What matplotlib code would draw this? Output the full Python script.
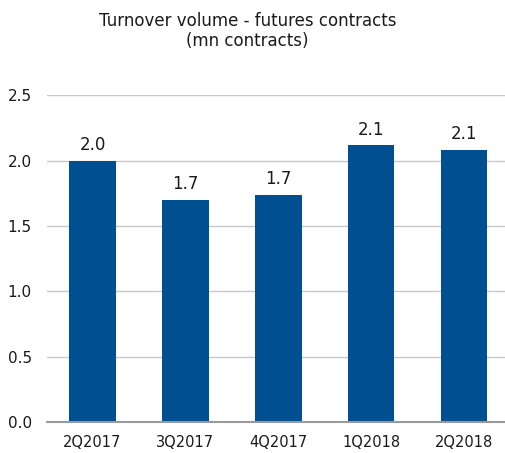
import matplotlib.pyplot as plt
import numpy as np

# data
quarters = ['2Q2017', '3Q2017', '4Q2017', '1Q2018', '2Q2018']
volumes = [2.00, 1.70, 1.74, 2.115, 2.077]
bar_labels = ['2.0', '1.7', '1.7', '2.1', '2.1']
y_ticks = [0.0, 0.5, 1.0, 1.5, 2.0, 2.5]

plt.rcParams['font.family'] = 'DejaVu Sans'

fig = plt.figure(figsize=(5.05, 4.53), dpi=100)
ax = fig.add_axes([0.093, 0.0684, 0.907, 0.7216])

x = np.arange(len(quarters))
bars = ax.bar(x, volumes, width=0.5, color='#004F91', zorder=3)

for rect, lab in zip(bars, bar_labels):
    ax.annotate(lab, (rect.get_x() + rect.get_width() / 2, rect.get_height()),
                xytext=(0, 5), textcoords='offset points',
                ha='center', va='bottom', fontsize=12, color='#1a1a1a')

ax.set_xlim(-0.49, 4.44)
ax.set_ylim(0, 2.5)
ax.set_yticks(y_ticks)
ax.set_yticklabels([f'{v:.1f}' for v in y_ticks])
ax.set_xticks(x)
ax.set_xticklabels(quarters)
ax.tick_params(axis='both', length=0, colors='#1a1a1a')
ax.tick_params(axis='y', pad=11, labelsize=11)
ax.tick_params(axis='x', pad=9, labelsize=10.5)

ax.grid(axis='y', color='#C8C8C8', linewidth=1, zorder=0)
for s in ['top', 'right', 'left']:
    ax.spines[s].set_visible(False)
ax.spines['bottom'].set_color('#9A9A9A')
ax.spines['bottom'].set_linewidth(1.5)
ax.spines['bottom'].set_zorder(4)

fig.text(0.49, 0.932, 'Turnover volume - futures contracts\n(mn contracts)',
         ha='center', va='center', fontsize=12, color='#1a1a1a', linespacing=1.1)

fig.savefig('out.png', dpi=100)
